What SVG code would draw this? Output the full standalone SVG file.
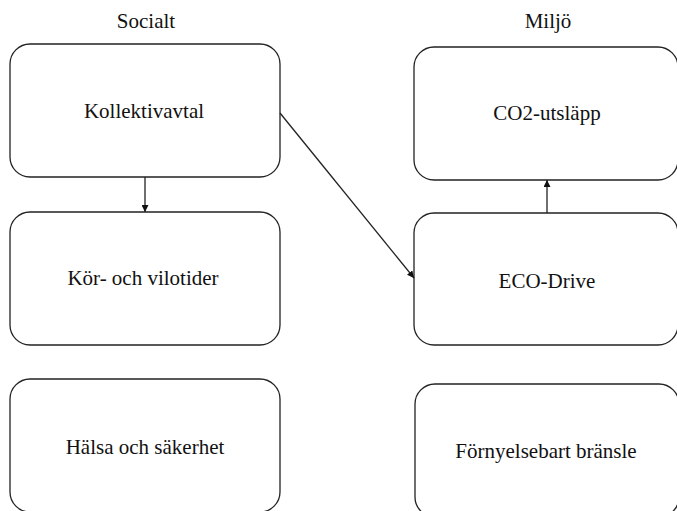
<svg xmlns="http://www.w3.org/2000/svg" width="677" height="511" viewBox="0 0 677 511">
  <style>
    .box { fill: #ffffff; stroke: #222; stroke-width: 1.3; }
    text { font-family: 'Liberation Serif', 'Times New Roman', Times, 'DejaVu Serif', 'Noto Serif', serif; font-size: 21px; fill: #111; text-anchor: middle; }
    .edge { stroke: #222; stroke-width: 1.3; fill: none; marker-end: url(#arrow); }
  </style>
  <defs>
    <marker id="arrow" viewBox="0 0 10 10" refX="10" refY="5" markerWidth="7" markerHeight="7" markerUnits="userSpaceOnUse" orient="auto">
      <path d="M0,0 L10,5 L0,10 z" fill="#111"/>
    </marker>
  </defs>

  <!-- column headings -->
  <text x="146" y="28" style="font-family:'Liberation Serif', serif">Socialt</text>
  <text x="548" y="28" style="font-family:'Liberation Serif', serif">Miljö</text>

  <g id="kollektivavtal">
    <rect class="box" x="10" y="44" width="270" height="133" rx="20"/>
    <text x="144" y="118" style="font-family:'Liberation Serif', serif">Kollektivavtal</text>
  </g>
  <g id="kor-och-vilotider">
    <rect class="box" x="10" y="212" width="270" height="133" rx="20"/>
    <text x="143" y="285" style="font-family:'Liberation Serif', serif">Kör- och vilotider</text>
  </g>
  <g id="halsa-och-sakerhet">
    <rect class="box" x="10" y="379" width="270" height="133" rx="20"/>
    <text x="145" y="454" style="font-family:'Liberation Serif', serif">Hälsa och säkerhet</text>
  </g>

  <g id="co2-utslapp">
    <rect class="box" x="414" y="47" width="264" height="133" rx="20"/>
    <text x="547" y="120" style="font-family:'Liberation Serif', serif">CO2-utsläpp</text>
  </g>
  <g id="eco-drive">
    <rect class="box" x="414" y="213" width="264" height="132" rx="20"/>
    <text x="547" y="288" style="font-family:'Liberation Serif', serif">ECO-Drive</text>
  </g>
  <g id="fornyelsebart-bransle">
    <rect class="box" x="415" y="384" width="264" height="133" rx="20"/>
    <text x="546" y="458" style="font-family:'Liberation Serif', serif">Förnyelsebart bränsle</text>
  </g>

  <g id="connectors">
    <line class="edge" x1="145" y1="177" x2="145" y2="212"/>
    <line class="edge" x1="280" y1="113" x2="414" y2="278"/>
    <line class="edge" x1="547" y1="213" x2="547" y2="180"/>
  </g>
</svg>
